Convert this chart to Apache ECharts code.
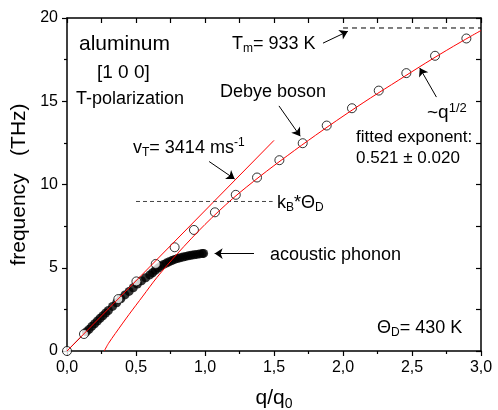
<!DOCTYPE html>
<html><head><meta charset="utf-8">
<script src="https://cdn.jsdelivr.net/npm/echarts@6/dist/echarts.min.js"></script>
<style>html,body{margin:0;padding:0;background:#fff}#c{width:498px;height:410px}</style>
</head><body><div id="c"></div>
<script>
// ---- data ----
const debyeQ = [0.0, 0.123, 0.372, 0.503, 0.643, 0.78, 0.92, 1.072, 1.223, 1.377, 1.539, 1.708, 1.882, 2.065, 2.259, 2.459, 2.667, 2.894];
const debyeF = [0.0, 1.02, 3.12, 4.18, 5.23, 6.23, 7.27, 8.33, 9.38, 10.42, 11.46, 12.48, 13.54, 14.58, 15.64, 16.69, 17.73, 18.77];
const phononQ = [0.14, 0.16, 0.18, 0.20, 0.22, 0.24, 0.26, 0.28, 0.30, 0.33, 0.36, 0.39, 0.42, 0.45, 0.48, 0.51, 0.54, 0.57, 0.60, 0.62, 0.64, 0.66, 0.68, 0.70, 0.72, 0.74, 0.76, 0.78, 0.80, 0.82, 0.84, 0.86, 0.88, 0.90, 0.92, 0.94, 0.96, 0.98, 0.99];
const phononF = [1.15, 1.30, 1.48, 1.64, 1.80, 1.97, 2.12, 2.28, 2.43, 2.68, 2.90, 3.14, 3.37, 3.58, 3.80, 4.02, 4.22, 4.40, 4.57, 4.70, 4.85, 4.98, 5.10, 5.20, 5.28, 5.36, 5.43, 5.50, 5.55, 5.60, 5.64, 5.68, 5.72, 5.75, 5.78, 5.80, 5.83, 5.85, 5.86];
const fitQ = [0.27, 0.30, 0.35, 0.45, 0.55, 0.65, 0.80, 1.00, 1.20, 1.40, 1.60, 1.80, 2.00, 2.20, 2.40, 2.60, 2.80, 3.00];
const fitF = [0.0, 0.45, 1.05, 2.20, 3.30, 4.40, 5.85, 7.60, 9.15, 10.50, 11.75, 12.95, 14.10, 15.20, 16.25, 17.30, 18.30, 19.25];
const soundQ = [0.0, 1.5];
const soundF = [0.0, 12.65];
const guideQ = [0.0, 0.12];
const guideF = [0.0, 1.0];
const meltQ = [2.0, 3.0];
const meltF = [19.4, 19.4];
const kThetaQ = [0.5, 1.49];
const kThetaF = [8.98, 8.98];
const xTicks = ['0,0', '0,5', '1,0', '1,5', '2,0', '2,5', '3,0'];
const yTicks = ['0', '5', '10', '15', '20'];
// annotation arrows: [tail, head] in data units
const arrowVT = [[1.03, 11.38], [1.215, 10.33]];
const arrowDebye = [[1.536, 14.72], [1.69, 12.9]];
const arrowMelt = [[1.855, 18.49], [2.035, 19.2]];
const arrowPow = [[2.677, 15.25], [2.556, 17.0]];
const arrowPhonon = [[1.355, 5.85], [1.07, 5.85]];

const zip = (a, b) => a.map((v, i) => [v, b[i]]);
const arrow = s => [{coord: s[0]}, {coord: s[1]}];
const FONT = 'Liberation Sans, Arial, sans-serif';

const chart = echarts.init(document.getElementById('c'), null, {renderer: 'canvas'});
const axisCommon = {
  splitLine: {show: false}, minorSplitLine: {show: false},
  axisLine: {show: true, onZero: false, lineStyle: {color: '#000', width: 1.5}}
};
const txt = (x, y, text, size, rich) => ({
  type: 'text', x: x, y: y, z: 100,
  style: {text: text, fill: '#000', font: size + 'px ' + FONT, align: 'left', verticalAlign: 'middle', rich: rich || {}}
});
const sub = s => ({fontSize: s, fontFamily: FONT, fill: '#000', padding: [Math.round(s * 0.8), 0, 0, 0]});
const sup = s => ({fontSize: s, fontFamily: FONT, fill: '#000', padding: [0, 0, Math.round(s * 0.8), 0]});

chart.setOption({
  animation: false,
  backgroundColor: '#fff',
  textStyle: {fontFamily: FONT},
  grid: {left: 67, right: 17, top: 18, bottom: 59, containLabel: false, outerBoundsMode: 'none'},
  xAxis: [
    Object.assign({}, axisCommon, {
      type: 'value', min: 0, max: 3, interval: 0.5, position: 'bottom',
      axisTick: {show: true, inside: false, length: 5, lineStyle: {color: '#000', width: 1.2}},
      minorTick: {show: true, splitNumber: 2, length: 3, lineStyle: {color: '#000', width: 1.2}},
      axisLabel: {fontSize: 16, color: '#000', margin: 9, fontFamily: FONT,
        formatter: v => xTicks[Math.round(v / 0.5)]},
      name: 'q/q{s|0}', nameLocation: 'middle', nameGap: 34,
      nameTextStyle: {fontSize: 21, color: '#000', fontFamily: FONT,
        rich: {s: {fontSize: 14, color: '#000', fontFamily: FONT, padding: [12, 0, 0, 0]}}}
    }),
    Object.assign({}, axisCommon, {
      type: 'value', min: 0, max: 3, interval: 0.25, position: 'top',
      axisTick: {show: true, inside: true, length: 5, lineStyle: {color: '#000', width: 1.2}},
      axisLabel: {show: false}
    })
  ],
  yAxis: [
    Object.assign({}, axisCommon, {
      type: 'value', min: 0, max: 20, interval: 5, position: 'left',
      axisTick: {show: true, inside: false, length: 5, lineStyle: {color: '#000', width: 1.2}},
      minorTick: {show: true, splitNumber: 2, length: 3, lineStyle: {color: '#000', width: 1.2}},
      axisLabel: {fontSize: 16, color: '#000', margin: 9, fontFamily: FONT,
        formatter: v => yTicks[Math.round(v / 5)]},
      name: 'frequency   (THz)', nameLocation: 'middle', nameGap: 34,
      nameTextStyle: {fontSize: 21, color: '#000', fontFamily: FONT}
    }),
    Object.assign({}, axisCommon, {
      type: 'value', min: 0, max: 20, interval: 2.5, position: 'right',
      axisTick: {show: true, inside: true, length: 5, lineStyle: {color: '#000', width: 1.2}},
      axisLabel: {show: false}
    })
  ],
  series: [
    {type: 'line', name: 'guide', data: zip(guideQ, guideF), symbol: 'none',
      lineStyle: {color: '#000', width: 1}, z: 2},
    {type: 'scatter', name: 'acoustic phonon', data: zip(phononQ, phononF), symbol: 'circle', symbolSize: 9,
      itemStyle: {color: '#000'}, z: 3},
    {type: 'scatter', name: 'Debye boson', data: zip(debyeQ, debyeF), symbol: 'circle', symbolSize: 9,
      itemStyle: {color: '#fff', borderColor: '#000', borderWidth: 1}, z: 4},
    {type: 'line', name: 'sound', data: zip(soundQ, soundF), symbol: 'none',
      lineStyle: {color: '#ff0000', width: 1}, z: 5},
    {type: 'line', name: 'fit', data: zip(fitQ, fitF), symbol: 'none', smooth: 0.3,
      lineStyle: {color: '#ff0000', width: 1}, z: 5},
    {type: 'line', name: 'melt', data: zip(meltQ, meltF), symbol: 'none',
      lineStyle: {color: '#000', width: 1, type: [5, 4]}, z: 5},
    {type: 'line', name: 'kTheta', data: zip(kThetaQ, kThetaF), symbol: 'none',
      lineStyle: {color: '#444', width: 1, type: [4, 3]}, z: 5},
    {type: 'line', name: 'arrows', data: [], z: 6,
      markLine: {silent: true, symbol: ['none', 'arrow'], symbolSize: 8, animation: false,
        lineStyle: {color: '#000', width: 1, type: 'solid'}, label: {show: false},
        data: [arrow(arrowVT), arrow(arrowDebye), arrow(arrowMelt), arrow(arrowPow), arrow(arrowPhonon)]}}
  ],
  graphic: [
    txt(79, 44, 'aluminum', 21),
    txt(97, 73, '[1 0 0]', 19),
    txt(76, 99, 'T-polarization', 18),
    txt(232, 44, 'T{s|m}= 933 K', 18, {s: sub(12)}),
    txt(220, 92, 'Debye boson', 18),
    txt(133, 148, 'v{s|T}= 3414 ms{p|-1}', 18, {s: sub(12), p: sup(12)}),
    txt(427, 113, '~q{p|1/2}', 19, {p: sup(13)}),
    txt(356, 137, 'fitted exponent:', 17),
    txt(356, 158, '0.521 \u00b1 0.020', 17),
    txt(277, 203, 'k{s|B}*\u0398{s|D}', 18, {s: sub(12)}),
    txt(270, 255, 'acoustic phonon', 18),
    txt(377, 328, '\u0398{s|D}= 430 K', 18, {s: sub(12)})
  ]
});
</script></body></html>
